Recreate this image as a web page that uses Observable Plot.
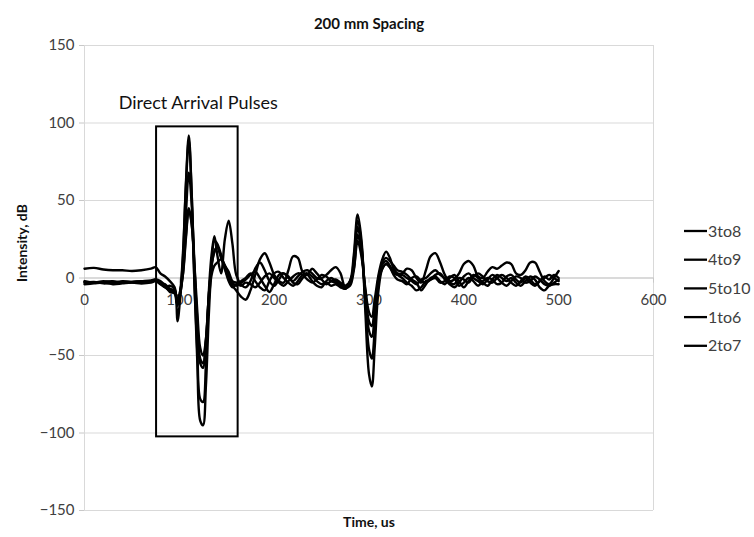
<!DOCTYPE html>
<html><head><meta charset="utf-8">
<script src="https://cdn.jsdelivr.net/npm/d3@7"></script>
<script src="https://cdn.jsdelivr.net/npm/@observablehq/plot@0.6"></script>
<style>body{margin:0;background:#fff;} #chart{width:754px;height:537px;}</style>
</head><body><div id="chart"></div>
<script>
// Time axis (us), shared by all series
const time = [0,10,20,30,40,50,60,70,
  75,80,85,90,95,
  98,101,104,107,110,113,116,119,122,125,128,131,134,137,140,
  144,148,152,156,160,
  165,170,175,180,185,190,195,200,205,210,215,220,225,230,235,240,245,250,255,260,265,270,275,280,
  284,288,292,296,300,303,306,310,314,318,322,326,330,
  335,340,345,350,355,360,365,370,375,380,385,390,395,400,405,410,415,420,425,430,435,440,445,450,455,460,465,470,475,480,485,490,495,500];

const s3to8 = [6,6.5,5.5,5,5,4.5,5,6,
  7,3,1,-2,-6,
  -18,-10,8,42,68,48,8,-32,-55,-58,-42,-12,8,17,20,
  13,6,0,-3,-5,
  -2,0,3,-2,-6,-8,-2,3,4,0,-3,-5,-2,2,3,1,-2,-4,-3,-5,-4,-6,-7,-3,
  8,33,20,-10,-34,-38,-24,0,9,11,8,4,2,
  0,-3,-5,-8,-6,-2,-1,2,3,-1,-4,-6,-3,1,3,0,-2,-4,-1,2,0,-3,-5,-2,1,0,-3,-2,1,-1,-4,-5,-3,-1];

const s4to9 = [-2,-3,-2.5,-2,-3,-2.5,-2,-1.5,
  -1,-2,-5,-9,-10,
  -28,-12,15,62,92,55,-5,-55,-92,-95,-70,-25,8,24,22,
  15,6,-2,-6,-4,
  -3,-1,2,4,0,-5,-9,-4,2,3,0,-2,1,4,5,3,0,-1,-4,-2,-1,-3,-5,-2,
  15,41,25,-20,-62,-70,-45,-8,6,9,7,3,2,
  2,0,-2,-4,-1,0,3,5,2,0,-3,-4,0,-1,-3,1,3,1,-2,-3,0,2,0,-3,-5,-2,1,-1,-4,-2,0,2,0,-2];

const s5to10 = [-3,-2.5,-3.5,-3,-2.5,-3,-2.5,-2,
  -1.5,-3,-6,-8,-9,
  -17,-8,18,60,89,55,-5,-48,-78,-80,-56,-10,15,27,15,
  3,25,37,22,2,
  -4,-6,-2,6,10,5,-2,-5,-1,3,1,-3,-4,0,2,-2,-5,-6,-2,0,-2,-4,-6,-4,
  12,37,22,-14,-46,-52,-34,-4,10,13,11,8,5,
  4,2,-1,-3,-8,-4,0,1,-2,-4,0,2,-2,-6,-2,2,0,-3,-5,-1,2,0,-2,0,-3,-5,-2,1,-1,-6,-8,-5,-4,-4];

const s1to6 = [-4,-3.5,-3,-4,-3.5,-3,-3.5,-3,
  -2,-4,-6,-5,-7,
  -16,-10,4,28,45,35,5,-28,-52,-55,-40,-12,8,17,20,
  14,8,4,-2,-3,
  -5,-3,-4,-6,-3,1,3,0,-3,-5,-2,1,3,2,-1,-3,-1,2,1,-2,-3,-5,-7,-2,
  6,28,17,-8,-28,-31,-19,-2,6,9,7,2,-1,
  -2,-4,0,1,-2,-3,-1,0,-3,-2,1,0,-5,-3,0,-2,-5,-2,0,-1,-4,-3,1,2,-1,-3,0,-3,-5,-2,1,-1,2,0];

const s2to7 = [-2.5,-3,-2,-3,-2,-2.5,-2,-2,
  -1,-3,-4,-7,-8,
  -15,-8,3,26,44,35,8,-22,-45,-50,-40,-15,2,8,10,
  12,8,2,-5,-8,
  -12,-14,-8,2,12,16,10,2,-2,-3,5,14,13,4,2,6,3,0,2,5,7,3,-6,-5,
  5,24,14,-6,-22,-25,-14,2,12,17,13,6,3,
  3,6,5,0,-3,5,14,16,10,2,-2,-1,3,9,11,8,1,0,4,7,6,8,10,9,3,2,5,10,10,4,-2,-4,0,4.5];

const seriesNames = ["3to8","4to9","5to10","1to6","2to7"];
const seriesValues = [s3to8, s4to9, s5to10, s1to6, s2to7];
const xTicks = [0,100,200,300,400,500,600];
const yTicks = [-150,-100,-50,0,50,100,150];
const boxTime = [76, 162];
const boxIntensity = [-102.5, 97.5];
const annotation = [{text:"Direct Arrival Pulses", time:36, intensity:113}];

const rows = seriesNames.flatMap((name, i) =>
  time.map((t, j) => ({series: name, time: t, value: seriesValues[i][j]})));

const font = "Lato, 'Open Sans', sans-serif";
const ink = "#404040";
const gridColor = "#d9d9d9";

const plot = Plot.plot({
  width: 754, height: 537,
  marginLeft: 84, marginRight: 101, marginTop: 45, marginBottom: 27,
  style: {fontFamily: font, background: "#fff", color: ink, overflow: "visible"},
  x: {domain: [0, 600], axis: null},
  y: {domain: [-150, 150]},
  marks: [
    Plot.gridY(yTicks, {stroke: gridColor, strokeOpacity: 1}),
    Plot.ruleX([0, 600], {stroke: gridColor, strokeOpacity: 1}),
    Plot.ruleY([0], {stroke: "#c8c8c8"}),
    Plot.ruleX(xTicks, {x: d => d, y1: 0, y2: -3.3, stroke: "#c8c8c8"}),
    Plot.text(xTicks, {x: d => d, y: 0, dy: 22, text: d => String(d), fontSize: 15, fill: ink}),
    Plot.axisY(yTicks, {tickSize: 5, tickPadding: 5, fontSize: 15, label: null, stroke: "#c8c8c8", fill: ink}),
    Plot.line(rows, {x: "time", y: "value", z: "series", stroke: "black", strokeWidth: 2.4, curve: "catmull-rom"}),
    Plot.rect([{x1: boxTime[0], x2: boxTime[1], y1: boxIntensity[0], y2: boxIntensity[1]}],
      {x1: "x1", x2: "x2", y1: "y1", y2: "y2", fill: "none", stroke: "black", strokeWidth: 2}),
    Plot.text(annotation, {x: "time", y: "intensity", text: "text", textAnchor: "start", fontSize: 18, fill: "#111"}),
    Plot.text(["200 mm Spacing"], {frameAnchor: "top", dy: -27, fontSize: 15, fontWeight: "bold", fill: "#111"}),
    Plot.text(["Time, us"], {frameAnchor: "bottom", dy: 16, fontSize: 14, fontWeight: "bold", fill: "#111"}),
    Plot.text(["Intensity, dB"], {frameAnchor: "left", dx: -62, dy: 4, rotate: -90, fontSize: 14, fontWeight: "bold", fill: "#111"})
  ]
});

// Legend (right side)
const svg = d3.select(plot);
const lg = svg.append("g").attr("font-family", font).attr("font-size", 16).attr("text-anchor", "start");
seriesNames.forEach((name, i) => {
  const y = 231 + i * 28.7;
  lg.append("line").attr("x1", 684).attr("x2", 707).attr("y1", y).attr("y2", y)
    .attr("stroke", "black").attr("stroke-width", 2.3);
  lg.append("text").attr("x", 708).attr("y", y).attr("dy", "0.35em").attr("fill", ink).text(name);
});

document.getElementById("chart").appendChild(plot);
</script>
</body></html>
